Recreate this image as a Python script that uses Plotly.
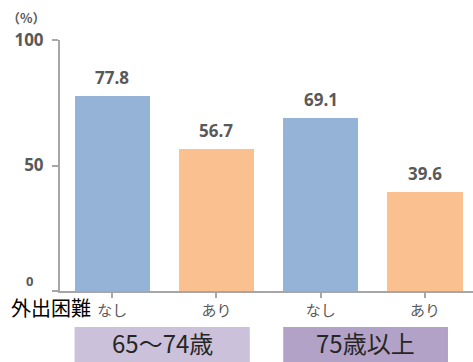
import plotly.graph_objects as go

categories = ["なし", "あり", "なし", "あり"]
values = [77.8, 56.7, 69.1, 39.6]
bar_colors = ["#95B3D7", "#FAC090", "#95B3D7", "#FAC090"]
y_ticks = [0, 50, 100]
group_labels = ["65〜74歳", "75歳以上"]
group_spans = [(-0.36, 1.32), (1.64, 3.22)]
group_colors = ["#CCC1DA", "#B3A2C7"]

x_idx = list(range(len(categories)))
num_font = "Open Sans"
jp_font = "Noto Sans CJK JP"

fig = go.Figure()
fig.add_trace(go.Bar(
    x=x_idx, y=values, width=0.72,
    marker=dict(color=bar_colors, line=dict(width=0)),
))

for xi, v in zip(x_idx, values):
    fig.add_annotation(text=f"{v:.1f}", x=xi, y=v, xref="x", yref="y",
                       showarrow=False, xanchor="center", yanchor="middle", yshift=18,
                       font=dict(family=num_font, size=17, color="#595959", weight="bold"))

fig.update_layout(
    width=473, height=362,
    margin=dict(l=60, r=0, t=40, b=71),
    paper_bgcolor="white", plot_bgcolor="white",
    showlegend=False,
    bargap=0,
    font=dict(family=jp_font),
)
fig.update_xaxes(
    range=[-0.5, 3.46],
    tickvals=x_idx, ticktext=categories,
    tickson="boundaries", ticks="outside", ticklen=5, tickwidth=2, tickcolor="#A6A6A6",
    showline=True, linecolor="#A6A6A6", linewidth=2,
    showgrid=False, zeroline=False,
    tickfont=dict(family=jp_font, size=15, color="#595959"),
)
fig.update_yaxes(
    range=[0, 100],
    tickvals=y_ticks, ticktext=["" if t == 0 else str(t) for t in y_ticks],
    ticks="outside", ticklen=6, tickwidth=2, tickcolor="#A6A6A6",
    showline=True, linecolor="#A6A6A6", linewidth=2,
    showgrid=False, zeroline=False,
    ticklabelstandoff=5,
    tickfont=dict(family=num_font, size=17, color="#595959", weight="bold"),
)
# zero label sits slightly above the axis, as in the reference
fig.add_annotation(text=str(y_ticks[0]), xref="paper", yref="y", x=-0.075, y=y_ticks[0],
                   showarrow=False, xanchor="center", yanchor="middle", yshift=10,
                   font=dict(family=num_font, size=13, color="#595959", weight="bold"))

fig.add_annotation(text="（%）", xref="paper", yref="paper", x=-0.08, y=1.09,
                   showarrow=False, xanchor="center", yanchor="middle",
                   font=dict(family=jp_font, size=13, color="#595959", weight="bold"))
fig.add_annotation(text="外出困難", xref="paper", yref="paper", x=-0.123, y=-0.065,
                   showarrow=False, xanchor="left", yanchor="middle",
                   font=dict(family=jp_font, size=20, color="#000000"))

for label, (x0, x1), col in zip(group_labels, group_spans, group_colors):
    fig.add_shape(type="rect", xref="x", yref="paper", x0=x0, x1=x1,
                  y0=-0.29, y1=-0.143, fillcolor=col, line=dict(width=0), layer="below")
    fig.add_annotation(text=label, xref="x", yref="paper", x=(x0 + x1) / 2, y=-0.207,
                       showarrow=False, xanchor="center", yanchor="middle",
                       font=dict(family=jp_font, size=24, color="#262626"))

fig.write_html("out.html")
